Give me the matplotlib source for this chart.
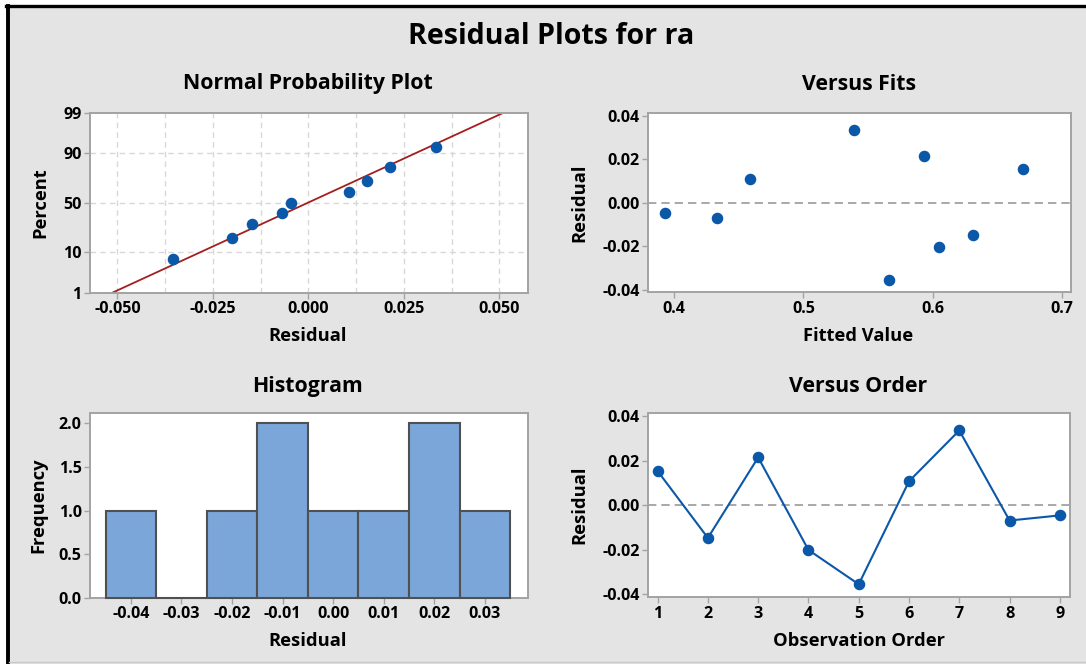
import matplotlib
matplotlib.use("Agg")
import matplotlib.pyplot as plt
from matplotlib.patches import Rectangle
from matplotlib.lines import Line2D
from statistics import NormalDist
import numpy as np

# Residuals in observation order and the matching fitted values
observation = [1, 2, 3, 4, 5, 6, 7, 8, 9]
residuals = [0.0153, -0.0147, 0.0214, -0.0201, -0.0355, 0.0107, 0.0335, -0.0069, -0.0046]
fitted = [0.670, 0.631, 0.593, 0.605, 0.566, 0.459, 0.539, 0.433, 0.393]

# Histogram bins (centres) and probability-axis ticks
bin_centers = [-0.04, -0.03, -0.02, -0.01, 0.00, 0.01, 0.02, 0.03]
pct_ticks = [1, 10, 50, 90, 99]
npp_xticks = [-0.050, -0.025, 0.000, 0.025, 0.050]

W, H = 1086, 664
BG = "#E4E4E4"
BLUE = "#0B57A8"
SPINE = "#A3A3A3"
FONT = ["Open Sans", "DejaVu Sans"]
WEIGHT = "bold"

plt.rcParams["font.family"] = FONT
plt.rcParams["font.weight"] = WEIGHT

fig = plt.figure(figsize=(W / 100, H / 100), dpi=100, facecolor="white")


def fx(px):
    return px / W


def fy(py):
    return 1 - py / H


# Panel background and frame
fig.patches.append(Rectangle((fx(7), 0), 1 - fx(7), fy(6), transform=fig.transFigure,
                             facecolor=BG, edgecolor="none", zorder=-10))
fig.lines.append(Line2D([fx(6), 1], [fy(6), fy(6)], transform=fig.transFigure,
                        color="black", lw=2.4, zorder=1))
fig.lines.append(Line2D([fx(8), fx(8)], [0, fy(6)], transform=fig.transFigure,
                        color="black", lw=2.8, zorder=1))
fig.lines.append(Line2D([fx(9), 1], [fy(662), fy(662)], transform=fig.transFigure,
                        color="#C9C9C9", lw=1.0, zorder=1))

TICK_SIZE = 11.6


def make_axes(l, r, t, b):
    ax = fig.add_axes([fx(l), fy(b), fx(r - l), (b - t) / H])
    ax.set_facecolor("white")
    for s in ax.spines.values():
        s.set_color(SPINE)
        s.set_linewidth(1.4)
    ax.tick_params(colors="black", labelsize=TICK_SIZE, length=4, width=1.0,
                   color=SPINE, pad=2)
    return ax


def style_ticks(ax):
    for lab in ax.get_xticklabels() + ax.get_yticklabels():
        lab.set_fontweight(WEIGHT)


# Titles
fig.text(fx(551), fy(44.3), "Residual Plots for ra", ha="center", va="baseline",
         fontsize=20.6, fontweight=WEIGHT)
sub_kw = dict(ha="center", va="baseline", fontsize=15.3, fontweight=WEIGHT)
fig.text(fx(307.5), fy(89.5), "Normal Probability Plot", **sub_kw)
fig.text(fx(859), fy(89.5), "Versus Fits", **sub_kw)
fig.text(fx(307), fy(392), "Histogram", **sub_kw)
fig.text(fx(858), fy(392), "Versus Order", **sub_kw)

lab_kw = dict(ha="center", va="baseline", fontsize=13.2, fontweight=WEIGHT)
ylab_kw = dict(ha="center", va="center", fontsize=13.2, fontweight=WEIGHT, rotation=90)

# ---- Normal probability plot ----
nd = NormalDist()
ax1 = make_axes(89.9, 527.9, 112.7, 292.7)
n = len(residuals)
srt = np.sort(residuals)
probs = [(i - 0.3) / (n + 0.4) for i in range(1, n + 1)]
zs = [nd.inv_cdf(p) for p in probs]
mu = float(np.mean(residuals))
sd = float(np.std(residuals, ddof=1))
zlo, zhi = nd.inv_cdf(0.01), nd.inv_cdf(0.99)
ax1.set_xlim(-0.0572, 0.0575)
ax1.set_ylim(zlo, zhi)
for gx in np.arange(-0.050, 0.0501, 0.0125):
    ax1.axvline(gx, color="#D8D8D8", lw=1.0, ls=(0, (4, 3)), zorder=0)
for p in pct_ticks[1:-1]:
    ax1.axhline(nd.inv_cdf(p / 100), color="#D8D8D8", lw=1.0, ls=(0, (4, 3)), zorder=0)
zline = np.array([zlo, zhi])
ax1.plot(mu + sd * zline, zline, color="#A31F1F", lw=1.3, zorder=2)
ax1.plot(srt, zs, "o", color=BLUE, ms=7.3, zorder=3)
ax1.set_xticks(npp_xticks)
ax1.set_xticklabels([f"{v:.3f}" for v in npp_xticks])
ax1.set_yticks([nd.inv_cdf(p / 100) for p in pct_ticks])
ax1.set_yticklabels([str(p) for p in pct_ticks])
style_ticks(ax1)
fig.text(fx(308), fy(340.7), "Residual", **lab_kw)
fig.text(fx(40.6), fy(203), "Percent", **ylab_kw)

# ---- Versus fits ----
ax2 = make_axes(647.9, 1070.6, 113.3, 292.3)
ax2.set_xlim(0.3798, 0.7065)
ax2.set_ylim(-0.0411, 0.0411)
ax2.axhline(0, color="#9A9A9A", lw=1.2, ls=(0, (5, 3)), zorder=1)
ax2.plot(fitted, residuals, "o", color=BLUE, ms=7.3, zorder=3)
ax2.set_xticks([0.4, 0.5, 0.6, 0.7])
ax2.set_xticklabels(["0.4", "0.5", "0.6", "0.7"])
ax2.set_yticks([-0.04, -0.02, 0.0, 0.02, 0.04])
ax2.set_yticklabels(["-0.04", "-0.02", "0.00", "0.02", "0.04"])
style_ticks(ax2)
fig.text(fx(857.7), fy(340.7), "Fitted Value", **lab_kw)
fig.text(fx(579), fy(203), "Residual", **ylab_kw)

# ---- Histogram ----
ax3 = make_axes(89.9, 527.9, 413.3, 597.7)
edges = np.array(bin_centers + [bin_centers[-1] + 0.01]) - 0.005
counts, _ = np.histogram(residuals, bins=edges)
ax3.bar(bin_centers, counts, width=0.01, color="#7BA6D9", edgecolor="#505050",
        linewidth=1.5, zorder=3, clip_on=False)
ax3.set_xlim(-0.0481, 0.0385)
ax3.set_ylim(0, 2.115)
ax3.set_xticks(bin_centers)
ax3.set_xticklabels([f"{v:.2f}" for v in bin_centers])
ax3.set_yticks([0.0, 0.5, 1.0, 1.5, 2.0])
ax3.set_yticklabels(["0.0", "0.5", "1.0", "1.5", "2.0"])
style_ticks(ax3)
fig.text(fx(308), fy(645.5), "Residual", **lab_kw)
fig.text(fx(38.6), fy(505), "Frequency", **ylab_kw)

# ---- Versus order ----
ax4 = make_axes(648.2, 1069.9, 413.3, 597.2)
ax4.set_xlim(0.813, 9.2)
ax4.set_ylim(-0.0413, 0.0412)
ax4.axhline(0, color="#9A9A9A", lw=1.2, ls=(0, (5, 3)), zorder=1)
ax4.plot(observation, residuals, "-o", color=BLUE, lw=1.5, ms=7.3, zorder=3)
ax4.set_xticks(observation)
ax4.set_xticklabels([str(v) for v in observation])
ax4.set_yticks([-0.04, -0.02, 0.0, 0.02, 0.04])
ax4.set_yticklabels(["-0.04", "-0.02", "0.00", "0.02", "0.04"])
style_ticks(ax4)
fig.text(fx(859.4), fy(645.5), "Observation Order", **lab_kw)
fig.text(fx(579), fy(505), "Residual", **ylab_kw)

fig.savefig("out.png", dpi=100, facecolor="white")
